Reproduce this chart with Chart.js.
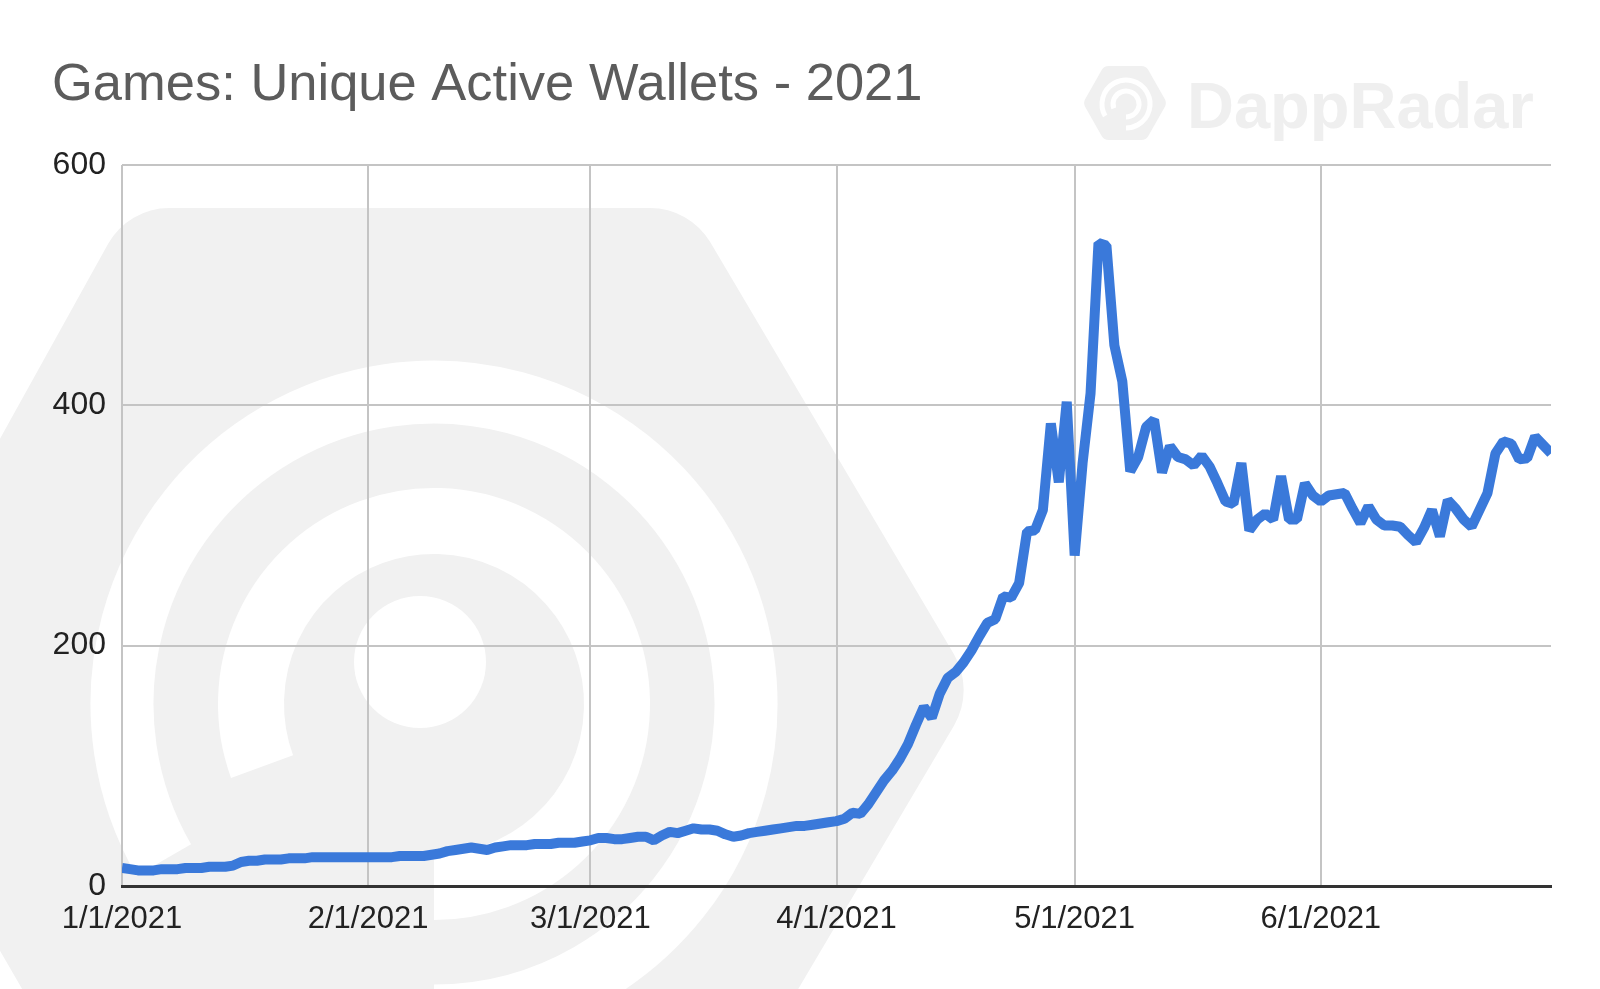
<!DOCTYPE html>
<html><head><meta charset="utf-8">
<script src="https://cdn.jsdelivr.net/npm/chart.js@4.4.1/dist/chart.umd.min.js"></script>
<style>html,body{margin:0;padding:0;background:#fff;}canvas{display:block;}</style>
</head><body>
<canvas id="c" width="1600" height="989"></canvas>
<script>
const chartTitle = 'Games: Unique Active Wallets - 2021';
const watermarkText = 'DappRadar';
const monthLabels = ['1/1/2021','2/1/2021','3/1/2021','4/1/2021','5/1/2021','6/1/2021'];
const monthStartDay = [0,31,59,90,120,151];
const yTicks = [0,200,400,600];

// daily unique active wallets, 1 Jan .. 30 Jun 2021
const jan = [15,14,13,13,13,14,14,14,15,15,15,16,16,16,17,20,21,21,22,22,22,23,23,23,24,24,24,24,24,24,24];
const feb = [24,24,24,24,25,25,25,25,26,27,29,30,31,32,31,30,32,33,34,34,34,35,35,35,36,36,36,37];
const mar = [38,40,40,39,39,40,41,41,38,42,45,44,46,48,47,47,46,43,41,42,44,45,46,47,48,49,50,50,51,52,53];
const apr = [54,56,61,60,68,78,88,96,106,118,134,149,140,160,173,178,186,196,208,219,222,241,240,252,295,296,313,385,336,403];
const may = [275,352,410,535,533,450,420,345,357,382,388,344,366,357,355,350,358,349,335,320,318,352,296,305,310,305,341,305,305,335,325];
const jun = [320,325,326,327,314,302,316,305,300,300,299,292,286,298,313,291,321,314,305,299,313,327,360,370,368,355,356,374,367,360];

const values = [...jan, ...feb, ...mar, ...apr, ...may, ...jun];
const points = values.map((v, i) => ({x: i, y: v}));

const FONT = '"Liberation Sans", Arial, Helvetica, sans-serif';

function roundedPoly(c, pts, r) {
  const n = pts.length;
  c.beginPath();
  const mid = (a, b) => [(a[0]+b[0])/2, (a[1]+b[1])/2];
  const start = mid(pts[n-1], pts[0]);
  c.moveTo(start[0], start[1]);
  for (let i = 0; i < n; i++) {
    const p = pts[i], q = pts[(i+1)%n];
    const m = mid(p, q);
    c.arcTo(p[0], p[1], m[0], m[1], r);
  }
  c.closePath();
}
function hexPts(cx, cy, s, hh) {
  return [[cx - s/2, cy - hh],[cx + s/2, cy - hh],[cx + s, cy],[cx + s/2, cy + hh],[cx - s/2, cy + hh],[cx - s, cy]];
}
function ring(c, cx, cy, r, w, a0, a1) {
  c.beginPath(); c.arc(cx, cy, r, a0, a1); c.lineWidth = w; c.stroke();
}
const deg = Math.PI / 180;

const backgroundPlugin = {
  id: 'bgWatermark',
  beforeDraw(chart) {
    const c = chart.ctx;
    c.save();
    c.fillStyle = '#ffffff';
    c.fillRect(0, 0, chart.width, chart.height);
    // big watermark logo
    roundedPoly(c, [[128,208],[690,208],[975,690],[690,1172],[128,1172],[-145,700]], 70);
    c.fillStyle = '#f1f1f1';
    c.fill();
    c.strokeStyle = '#ffffff';
    c.lineCap = 'butt';
    ring(c, 434, 704, 312, 63, 150*deg, 450*deg);
    ring(c, 434, 704, 183, 66, 160*deg, 450*deg);
    c.fillStyle = '#ffffff';
    c.beginPath(); c.arc(420, 662, 66, 0, Math.PI*2); c.fill();
    // small logo + text
    roundedPoly(c, hexPts(1125, 103, 42, 37), 8);
    c.fillStyle = '#f0f0f0';
    c.fill();
    c.strokeStyle = '#ffffff';
    ring(c, 1126, 104, 24, 5, 150*deg, 450*deg);
    ring(c, 1126, 104, 13, 5, 160*deg, 450*deg);
    c.fillStyle = '#efefef';
    c.font = 'bold 65px ' + FONT;
    c.textBaseline = 'alphabetic';
    c.fillText(watermarkText, 1187, 128);
    c.restore();
  }
};

new Chart(document.getElementById('c'), {
  type: 'line',
  data: {
    datasets: [{
      data: points,
      borderColor: '#3a79da',
      borderWidth: 10,
      pointRadius: 0,
      pointHoverRadius: 0,
      tension: 0,
      fill: false,
      borderJoinStyle: 'bevel'
    }]
  },
  options: {
    responsive: false,
    devicePixelRatio: 1,
    animation: false,
    events: [],
    layout: {padding: {left: 52, right: 49, top: 0, bottom: 0}},
    plugins: {
      legend: {display: false},
      tooltip: {enabled: false},
      title: {
        display: true, text: chartTitle, align: 'start', color: '#5c5c5c',
        font: {family: FONT, size: 52.5, weight: 'normal'},
        padding: {top: 54, bottom: 48}
      }
    },
    scales: {
      x: {
        type: 'linear', min: 0, max: values.length - 1,
        afterBuildTicks: s => { s.ticks = monthStartDay.map(v => ({value: v})); },
        afterFit: s => { s.height = 103; },
        ticks: {
          autoSkip: false, maxRotation: 0, color: '#222222', padding: 15,
          font: {family: FONT, size: 31},
          callback: v => { const i = monthStartDay.indexOf(v); return i >= 0 ? monthLabels[i] : ''; }
        },
        grid: {color: '#c4c4c4', lineWidth: 2, drawTicks: false},
        border: {display: true, color: '#333333', width: 3}
      },
      y: {
        min: 0, max: 600,
        afterBuildTicks: s => { s.ticks = yTicks.map(v => ({value: v})); },
        afterFit: s => { s.width = 70; },
        ticks: {color: '#222222', padding: 16, font: {family: FONT, size: 32}},
        grid: {color: ctx => (ctx.tick && ctx.tick.value === 0) ? 'rgba(0,0,0,0)' : '#c4c4c4', lineWidth: 2, drawTicks: false},
        border: {display: false}
      }
    }
  },
  plugins: [backgroundPlugin]
});
</script>
</body></html>
